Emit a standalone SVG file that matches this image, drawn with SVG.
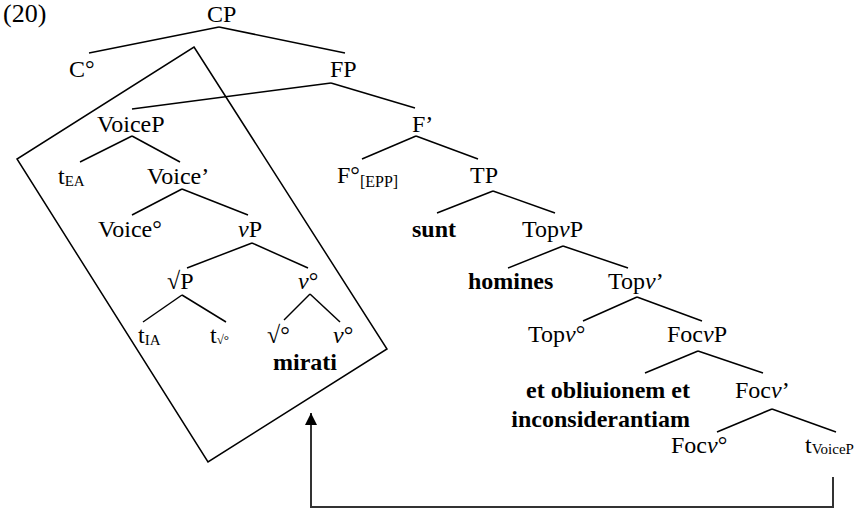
<svg xmlns="http://www.w3.org/2000/svg" width="860" height="511" viewBox="0 0 860 511" font-family="'Liberation Serif', 'Times New Roman', serif">
<defs>
<style>
text{font-family:'Liberation Serif','Times New Roman',serif;font-size:24px;fill:#000}
.b{font-weight:bold}
.i{font-style:italic}
.sub{font-size:15px}
.edge{stroke:#000;stroke-width:1.5;fill:none}
.box{stroke:#000;stroke-width:1.5;fill:none}
.mv{stroke:#333;stroke-width:2;fill:none}
</style>
<marker id="ah" markerWidth="12" markerHeight="12" refX="12" refY="6" orient="auto" markerUnits="userSpaceOnUse" viewBox="0 0 12 12">
<path d="M0,0 L12,6 L0,12 Z" fill="#000"/>
</marker>
</defs>
<rect width="860" height="511" fill="#fff"/>
<text x="3" y="22" style="font-size:26px">(20)</text>

<g id="box"><polygon class="box" points="194,47 387,349 208,462 17,159"/></g>

<g id="edges">
<line class="edge" x1="219" y1="27" x2="89" y2="53"/>
<line class="edge" x1="219" y1="27" x2="345" y2="53"/>
<line class="edge" x1="331" y1="83" x2="132" y2="109"/>
<line class="edge" x1="331" y1="83" x2="415" y2="108"/>
<line class="edge" x1="132" y1="136" x2="80" y2="162"/>
<line class="edge" x1="132" y1="136" x2="180" y2="162"/>
<line class="edge" x1="416" y1="136" x2="362" y2="159"/>
<line class="edge" x1="416" y1="136" x2="478" y2="159"/>
<line class="edge" x1="182" y1="189" x2="132" y2="215"/>
<line class="edge" x1="182" y1="189" x2="248" y2="215"/>
<line class="edge" x1="493" y1="191" x2="437" y2="213"/>
<line class="edge" x1="493" y1="191" x2="555" y2="213"/>
<line class="edge" x1="252" y1="243" x2="187" y2="268"/>
<line class="edge" x1="252" y1="243" x2="308" y2="268"/>
<line class="edge" x1="563" y1="246" x2="508" y2="268"/>
<line class="edge" x1="563" y1="246" x2="628" y2="268"/>
<line class="edge" x1="182" y1="295" x2="143" y2="322"/>
<line class="edge" x1="182" y1="295" x2="226" y2="322"/>
<line class="edge" x1="310" y1="294" x2="284" y2="320"/>
<line class="edge" x1="310" y1="294" x2="340" y2="322"/>
<line class="edge" x1="637" y1="297" x2="583" y2="321"/>
<line class="edge" x1="637" y1="297" x2="702" y2="321"/>
<line class="edge" x1="698" y1="351" x2="645" y2="373"/>
<line class="edge" x1="698" y1="351" x2="763" y2="373"/>
<line class="edge" x1="772" y1="409" x2="717" y2="432"/>
<line class="edge" x1="772" y1="409" x2="836" y2="432"/>
<polyline class="mv" points="833,477 833,507 311,507 311,413" marker-end="url(#ah)"/>
</g>

<g id="CP"><text x="207" y="22">CP</text></g>
<g id="C0"><text x="69" y="77">C°</text></g>
<g id="FP"><text x="330" y="77">FP</text></g>
<g id="VoiceP"><text x="97" y="132">VoiceP</text></g>
<g id="Fbar"><text x="412" y="132">F’</text></g>
<g id="tEA"><text x="58" y="184">t<tspan class="sub" dy="2">EA</tspan></text></g>
<g id="Voicebar"><text x="147" y="184">Voice’</text></g>
<g id="F0"><text x="337" y="183">F°<tspan style="font-size:16px" dy="4">[EPP]</tspan></text></g>
<g id="TP"><text x="470" y="183">TP</text></g>
<g id="Voice0"><text x="98" y="237">Voice°</text></g>
<g id="vP"><text x="238" y="237"><tspan class="i">v</tspan>P</text></g>
<g id="sunt"><text class="b" x="412" y="237">sunt</text></g>
<g id="TopvP"><text x="522" y="237">Top<tspan class="i">v</tspan>P</text></g>
<g id="rootP"><text x="167" y="289">√P</text></g>
<g id="v0"><text x="298" y="289"><tspan class="i">v</tspan>°</text></g>
<g id="homines"><text class="b" x="468" y="289">homines</text></g>
<g id="Topvbar"><text x="608" y="289">Top<tspan class="i">v</tspan>’</text></g>
<g id="tIA"><text x="138" y="343">t<tspan class="sub" dy="2">IA</tspan></text></g>
<g id="troot"><text x="210" y="343">t<tspan style="font-size:13px" dy="1">√°</tspan></text></g>
<g id="root0"><text x="267" y="343">√°</text></g>
<g id="v0b"><text x="333" y="343"><tspan class="i">v</tspan>°</text></g>
<g id="mirati"><text class="b" x="273" y="370">mirati</text></g>
<g id="Topv0"><text x="528" y="342">Top<tspan class="i">v</tspan>°</text></g>
<g id="FocvP"><text x="667" y="342">Foc<tspan class="i">v</tspan>P</text></g>
<g id="obliuionem"><text class="b" x="690" y="398" text-anchor="end">et obliuionem et</text><text class="b" x="690" y="427" text-anchor="end">inconsiderantiam</text></g>
<g id="Focvbar"><text x="735" y="398">Foc<tspan class="i">v</tspan>’</text></g>
<g id="Focv0"><text x="671" y="453">Foc<tspan class="i">v</tspan>°</text></g>
<g id="tVoiceP"><text x="805" y="453">t<tspan class="sub" dy="1">VoiceP</tspan></text></g>
</svg>
